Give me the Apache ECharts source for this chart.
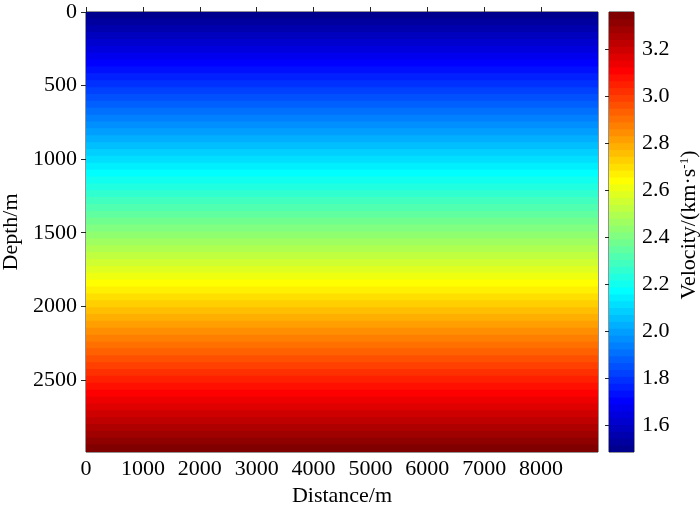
<!DOCTYPE html>
<html>
<head>
<meta charset="utf-8">
<script src="https://cdn.jsdelivr.net/npm/echarts@6/dist/echarts.min.js"></script>
<style>
  html, body { margin: 0; padding: 0; background: #fff; }
  #chart { width: 700px; height: 508px; }
</style>
</head>
<body>
<div id="chart"></div>
<script>
// model extent along distance (m)
var distanceRange = [0, 9000];
var depthMax = 2990;
// top of each velocity layer (m), layer bottom is the next top
var layerTop = [
  0, 47, 93, 140, 187, 234, 280, 327, 374, 420, 467, 514, 561, 607, 654, 701,
  748, 794, 841, 888, 934, 981, 1028, 1075, 1121, 1168, 1215, 1261, 1308, 1355, 1402, 1448,
  1495, 1542, 1589, 1635, 1682, 1729, 1775, 1822, 1869, 1916, 1962, 2009, 2056, 2102, 2149, 2196,
  2243, 2289, 2336, 2383, 2430, 2476, 2523, 2570, 2616, 2663, 2710, 2757, 2803, 2850, 2897, 2943
];
// velocity of each layer (km/s)
var velocity = [
  1.502, 1.531, 1.560, 1.589, 1.619, 1.648, 1.678, 1.707, 1.736, 1.765, 1.795, 1.824, 1.853, 1.882, 1.912, 1.941,
  1.970, 2.000, 2.029, 2.058, 2.087, 2.117, 2.146, 2.175, 2.204, 2.234, 2.263, 2.292, 2.321, 2.351, 2.380, 2.409,
  2.438, 2.468, 2.497, 2.526, 2.556, 2.585, 2.614, 2.643, 2.673, 2.702, 2.731, 2.760, 2.790, 2.819, 2.848, 2.878,
  2.907, 2.936, 2.965, 2.995, 3.024, 3.053, 3.082, 3.112, 3.141, 3.170, 3.199, 3.229, 3.258, 3.287, 3.317, 3.346
];
var distanceTicks = [0, 1000, 2000, 3000, 4000, 5000, 6000, 7000, 8000];
var depthTicks = [0, 500, 1000, 1500, 2000, 2500];
var cbarTicks = [1.6, 1.8, 2.0, 2.2, 2.4, 2.6, 2.8, 3.0, 3.2];
var vMin = 1.487, vMax = 3.36;
var nColors = 64;

var font = "'Liberation Serif', 'Times New Roman', serif";
var lineColor = '#262626';

// jet colormap, same as matlab jet(64)
function jet(i, n) {
  var x = (i + 1) / n;
  function c(v) { return Math.round(255 * Math.max(0, Math.min(1, v))); }
  var r = c(1.5 - Math.abs(4 * x - 3));
  var g = c(1.5 - Math.abs(4 * x - 2));
  var b = c(1.5 - Math.abs(4 * x - 1));
  return 'rgb(' + r + ',' + g + ',' + b + ')';
}

var pieces = [];
var cbarData = [];
var step = (vMax - vMin) / nColors;
for (var i = 0; i < nColors; i++) {
  var lo = vMin + i * step, hi = vMin + (i + 1) * step;
  pieces.push({ gte: lo, lt: hi, color: jet(i, nColors) });
  cbarData.push([0, 1, lo, hi, (lo + hi) / 2]);
}
pieces[nColors - 1].lte = vMax;
delete pieces[nColors - 1].lt;

var layerData = layerTop.map(function (top, k) {
  var bottom = k < layerTop.length - 1 ? layerTop[k + 1] : depthMax;
  return [distanceRange[0], distanceRange[1], top, bottom, velocity[k]];
});

function renderRect(params, api) {
  var p0 = api.coord([api.value(0), api.value(2)]);
  var p1 = api.coord([api.value(1), api.value(3)]);
  var x = Math.min(p0[0], p1[0]), y = Math.min(p0[1], p1[1]);
  return {
    type: 'rect',
    shape: { x: x, y: y - 0.5, width: Math.abs(p1[0] - p0[0]), height: Math.abs(p1[1] - p0[1]) + 1 },
    style: { fill: api.visual('color') }
  };
}

function plain(v) { return String(v); }

var tickStyle = { inside: true, length: 5, lineStyle: { color: lineColor, width: 1 } };
var labelStyle = { color: '#000', fontFamily: font, fontSize: 22 };
var nameStyle = { color: '#000', fontFamily: font, fontSize: 22 };

var chart = echarts.init(document.getElementById('chart'));
chart.setOption({
  animation: false,
  grid: [
    { left: 86, top: 12, width: 512, height: 440, outerBoundsMode: 'none', containLabel: false,
      show: true, borderColor: lineColor, borderWidth: 1, backgroundColor: 'transparent' },
    { left: 609, top: 12, width: 25, height: 440, outerBoundsMode: 'none', containLabel: false,
      show: true, borderColor: lineColor, borderWidth: 1, backgroundColor: 'transparent' }
  ],
  visualMap: {
    type: 'piecewise', show: false, dimension: 4, seriesIndex: [0, 1], pieces: pieces
  },
  xAxis: [
    {
      gridIndex: 0, type: 'value', position: 'bottom', min: distanceRange[0], max: distanceRange[1],
      axisLine: { show: false }, splitLine: { show: false },
      axisTick: Object.assign({ customValues: distanceTicks }, tickStyle),
      axisLabel: Object.assign({ customValues: distanceTicks, margin: 6, formatter: plain }, labelStyle),
      name: 'Distance/m', nameLocation: 'middle', nameGap: 30, nameTextStyle: nameStyle
    },
    {
      gridIndex: 0, type: 'value', position: 'top', min: distanceRange[0], max: distanceRange[1],
      axisLine: { show: false }, splitLine: { show: false },
      axisTick: Object.assign({ customValues: distanceTicks }, tickStyle),
      axisLabel: { show: false }
    },
    { gridIndex: 1, type: 'value', min: 0, max: 1, show: false }
  ],
  yAxis: [
    {
      gridIndex: 0, type: 'value', position: 'left', inverse: true, min: 0, max: depthMax,
      axisLine: { show: false }, splitLine: { show: false },
      axisTick: Object.assign({ customValues: depthTicks }, tickStyle),
      axisLabel: Object.assign({ customValues: depthTicks, margin: 9, formatter: plain }, labelStyle),
      name: 'Depth/m', nameLocation: 'middle', nameRotate: 90, nameGap: 60, nameTextStyle: nameStyle
    },
    {
      gridIndex: 0, type: 'value', position: 'right', inverse: true, min: 0, max: depthMax,
      axisLine: { show: false }, splitLine: { show: false },
      axisTick: Object.assign({ customValues: depthTicks }, tickStyle),
      axisLabel: { show: false }
    },
    {
      gridIndex: 1, type: 'value', position: 'right', min: vMin, max: vMax,
      axisLine: { show: false }, splitLine: { show: false },
      axisTick: { inside: true, length: 4, customValues: cbarTicks, lineStyle: { color: lineColor } },
      axisLabel: Object.assign({
        customValues: cbarTicks, margin: 8,
        formatter: function (v) { return v.toFixed(1); }
      }, labelStyle),
      name: '{a|Velocity/(km·s}{b|-1}{a|)}', nameLocation: 'middle', nameRotate: 90, nameGap: 44,
      nameTextStyle: {
        padding: [0, 0, 0, 14],
        rich: {
          a: { color: '#000', fontFamily: font, fontSize: 22 },
          b: { color: '#000', fontFamily: font, fontSize: 13, verticalAlign: 'top' }
        }
      }
    }
  ],
  series: [
    {
      type: 'custom', xAxisIndex: 0, yAxisIndex: 0, renderItem: renderRect,
      encode: { x: [0, 1], y: [2, 3] }, clip: true, data: layerData
    },
    {
      type: 'custom', xAxisIndex: 2, yAxisIndex: 2, renderItem: renderRect,
      encode: { x: [0, 1], y: [2, 3] }, clip: true, data: cbarData
    }
  ]
});
window.addEventListener('resize', function () { chart.resize(); });
</script>
</body>
</html>
